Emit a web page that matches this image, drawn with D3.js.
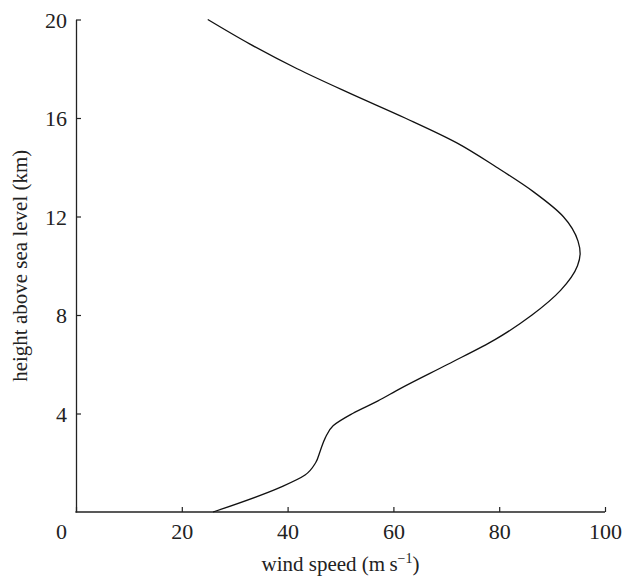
<!DOCTYPE html>
<html>
<head>
<meta charset="utf-8">
<script src="https://cdn.jsdelivr.net/npm/d3@7"></script>
<style>
  html, body { margin: 0; padding: 0; background: #fff; }
  svg { display: block; }
  svg text { font-family: "Liberation Serif", "Times New Roman", Times, "DejaVu Serif", serif !important; fill: #222; }
</style>
</head>
<body>
<svg id="chart" width="624" height="578"></svg>
<script>
// Data: height above sea level (km) and wind speed (m/s)
const heights = [0, 1, 1.5, 2, 2.5, 3, 3.5, 4, 4.5, 5, 6, 7, 8, 9, 10, 10.5, 11, 12, 13, 14, 15, 16, 17, 18, 19, 20];
const speeds  = [25.9, 38.6, 43.3, 45.3, 46.2, 47.1, 48.6, 52.3, 57.0, 61.2, 70.3, 79.2, 86.2, 91.6, 94.8, 95.3, 94.9, 92.1, 86.5, 79.5, 71.9, 62.2, 51.8, 41.8, 32.9, 24.9];
const xTicks = [0, 20, 40, 60, 80, 100];
const yTicks = [4, 8, 12, 16, 20];
const xLabel = "wind speed (m\u2009s";
const yLabel = "height above sea level (km)";

(function () {
const svg = d3.select("#chart");
const mLeft = 76, mRight = 605, mTop = 19.5, mBottom = 512;

const x = d3.scaleLinear().domain([0, 100]).range([mLeft, mRight]);
const y = d3.scaleLinear().domain([0, 20]).range([mBottom, mTop]);

// axes
const xAxis = d3.axisBottom(x).tickValues(xTicks).tickSizeInner(-5).tickSizeOuter(0).tickPadding(14);
const gx = svg.append("g").attr("transform", `translate(0,${mBottom})`).call(xAxis);
const yAxis = d3.axisLeft(y).tickValues(yTicks).tickSizeInner(-5).tickSizeOuter(0).tickPadding(14);
const gy = svg.append("g").attr("transform", `translate(${mLeft},0)`).call(yAxis);

[gx, gy].forEach(g => {
  g.attr("font-family", null);
  g.select(".domain").attr("stroke", "#222").attr("stroke-width", 1.3);
  g.selectAll(".tick line").attr("stroke", "#222").attr("stroke-width", 1.2);
  g.selectAll(".tick text").attr("font-size", 22).attr("fill", "#222");
});
gx.selectAll(".tick text").attr("dy", "0.71em").attr("y", 11);
gx.selectAll(".tick text").filter(d => d === 0).attr("dx", -15);
gy.selectAll(".tick text").attr("x", -9).attr("dy", "0.35em");
gx.select(".domain").attr("d", `M${mLeft - 0.6},0H${mRight}`);

// curve
const pts = heights.map((h, i) => [speeds[i], h]);
const line = d3.line().x(d => x(d[0])).y(d => y(d[1])).curve(d3.curveMonotoneY);
svg.append("path").datum(pts)
  .attr("d", line).attr("fill", "none").attr("stroke", "#111").attr("stroke-width", 1.3);

// axis labels
const xl = svg.append("text").attr("x", (mLeft + mRight) / 2).attr("y", 571)
  .attr("text-anchor", "middle").attr("font-size", 21);
xl.append("tspan").text(xLabel);
xl.append("tspan").text("\u22121").attr("font-size", 14).attr("dy", -8);
xl.append("tspan").text(")").attr("dy", 8);

svg.append("text")
  .attr("transform", `translate(27,${(mTop + mBottom) / 2}) rotate(-90)`)
  .attr("text-anchor", "middle").attr("font-size", 21)
  .text(yLabel);
})();
</script>
</body>
</html>
